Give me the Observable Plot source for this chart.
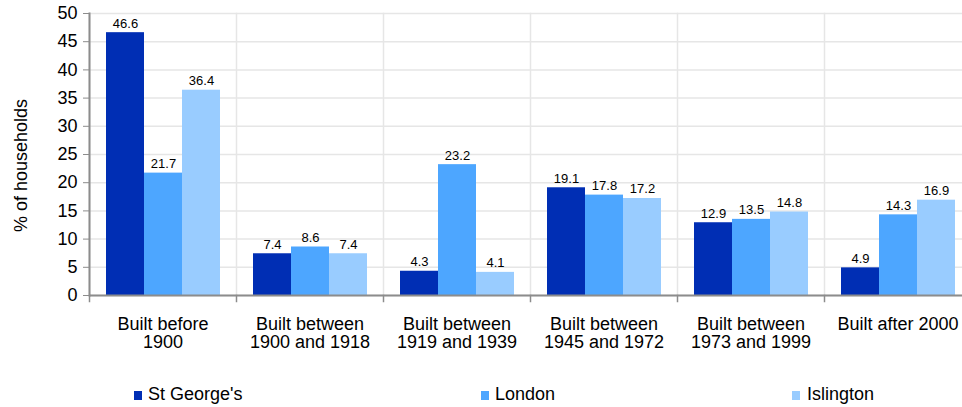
<!DOCTYPE html>
<html>
<head>
<meta charset="utf-8">
<script src="https://cdn.jsdelivr.net/npm/d3@7"></script>
<script src="https://cdn.jsdelivr.net/npm/@observablehq/plot@0.6"></script>
<style>
  html, body { margin: 0; padding: 0; background: #fff; }
  body { font-family: "Liberation Sans", Arial, sans-serif; width: 962px; }
  #chart svg { display: block; }
  #legend { position: relative; width: 962px; height: 37px; }
  .sw { position: absolute; top: 21px; width: 8px; height: 9px; }
  .lt { position: absolute; top: 15px; font-size: 18px; line-height: 18px; color: #000; white-space: nowrap; }
</style>
</head>
<body>
<div id="chart"></div>
<div id="legend"></div>
<script>
// ---- data ----
const categories = [
  "Built before\n1900",
  "Built between\n1900 and 1918",
  "Built between\n1919 and 1939",
  "Built between\n1945 and 1972",
  "Built between\n1973 and 1999",
  "Built after 2000"
];
const seriesNames = ["St George's", "London", "Islington"];
const stGeorges = [46.6, 7.4, 4.3, 19.1, 12.9, 4.9];
const london    = [21.7, 8.6, 23.2, 17.8, 13.5, 14.3];
const islington = [36.4, 7.4, 4.1, 17.2, 14.8, 16.9];
const yTicks = [0, 5, 10, 15, 20, 25, 30, 35, 40, 45, 50];
const yLabel = "% of households";
const colors = ["#002EB4", "#4DA6FF", "#99CCFF"];

const seriesValues = [stGeorges, london, islington];
const data = categories.flatMap((c, i) =>
  seriesNames.map((s, k) => ({category: c, series: s, value: seriesValues[k][i]}))
);

const axisColor = "#8c8c8c";
const gridColor = "#e6e6e6";

const chart = Plot.plot({
  width: 962,
  height: 370,
  marginTop: 13,
  marginBottom: 75,
  marginLeft: 89,
  marginRight: 0,
  style: {fontFamily: "'Liberation Sans', Arial, sans-serif", fontSize: "18px", color: "#000", background: "#fff"},
  fx: {domain: categories, range: [89, 971], padding: 0, label: null},
  x: {domain: seriesNames, paddingInner: 0, paddingOuter: 0.385, axis: null},
  y: {domain: [0, 50], label: null},
  color: {domain: seriesNames, range: colors},
  facet: {marginLeft: 0, marginRight: 0},
  marks: [
    Plot.gridY(yTicks, {stroke: gridColor, strokeOpacity: 1, strokeWidth: 1.5}),
    Plot.frame({anchor: "left", stroke: gridColor, strokeWidth: 1.5}),
    Plot.barY(data, {fx: "category", x: "series", y: "value", fill: "series"}),
    Plot.text(data, {
      fx: "category", x: "series", y: "value",
      text: d => d.value.toFixed(1),
      dy: -5, lineAnchor: "bottom", fontSize: 13, fill: "#000"
    }),
    Plot.ruleY([0], {stroke: axisColor, strokeWidth: 2}),
    Plot.frame({anchor: "left", stroke: axisColor, strokeWidth: 2, facetAnchor: "left"}),
    Plot.frame({anchor: "left", stroke: axisColor, strokeWidth: 1.5, insetTop: 282, insetBottom: -6}),
    Plot.axisY(yTicks, {tickSize: 6, tickPadding: 6, stroke: axisColor, fontSize: 18, label: null}),
    Plot.axisFx({anchor: "bottom", tickSize: 0, tickPadding: 21, fontSize: 18, lineHeight: 1.02, label: null}),
    Plot.text([yLabel], {frameAnchor: "left", textAnchor: "middle", rotate: -90, dx: -68, dy: 11, fontSize: 18, fill: "#000", facetAnchor: "left"})
  ]
});
document.getElementById("chart").appendChild(chart);

// legend
const legendPos = [{sw: 134, tx: 148}, {sw: 481, tx: 495}, {sw: 792, tx: 807}];
const legend = document.getElementById("legend");
seriesNames.forEach((s, k) => {
  const sw = document.createElement("div");
  sw.className = "sw";
  sw.style.left = legendPos[k].sw + "px";
  sw.style.background = colors[k];
  legend.appendChild(sw);
  const t = document.createElement("div");
  t.className = "lt";
  t.style.left = legendPos[k].tx + "px";
  t.textContent = s;
  legend.appendChild(t);
});
</script>
</body>
</html>
